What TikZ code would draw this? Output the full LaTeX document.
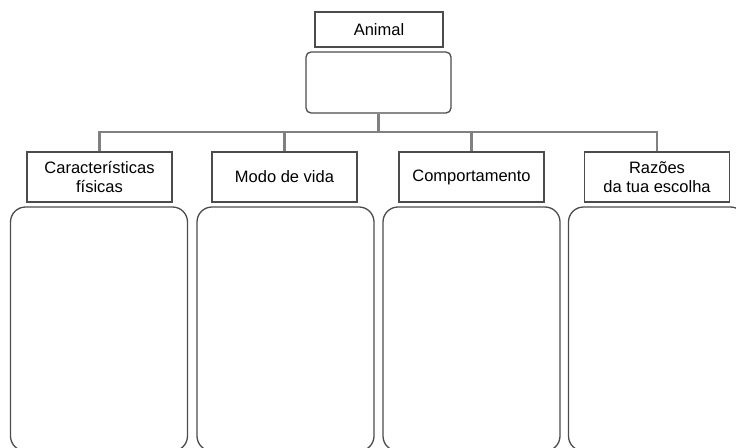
\documentclass[tikz,border=0pt]{standalone}
\usepackage{fontspec}
\setmainfont{Liberation Sans}
\tikzset{
  label box/.style={draw=black!70,line width=1.3pt,minimum width=145pt,minimum height=50pt,
    align=center,inner sep=2pt,font=\fontsize{16.5}{19.5}\selectfont},
  answer box/.style={draw=black!70,line width=1.3pt,rounded corners=15pt,minimum width=177pt,minimum height=244pt},
  link/.style={draw=black!50,line width=2.8pt}
}
\begin{document}
\begin{tikzpicture}[x=1pt,y=-1pt]
        \useasboundingbox (0,0) rectangle (736,447);
        \clip (0,0) rectangle (736,447);
        %% top of the tree
        \node[label box,minimum width=128pt,minimum height=35pt] (animal) at (379,29.5) {Animal};
        \node[answer box,rounded corners=5pt,minimum width=145pt,minimum height=61pt] (name) at (378.5,82.5) {};
        %% headings
        \node[label box] (fisicas) at (99.5,177) {Características\\físicas};
        \node[label box] (modo) at (284.5,177) {Modo de vida};
        \node[label box] (comport) at (471.5,177) {Comportamento};
        \node[label box] (razoes) at (657,177) {Razões\\da tua escolha};
        %% answer boxes
        \node[answer box] (fisicasbox) at (99,329) {};
        \node[answer box] (modobox) at (285.5,329) {};
        \node[answer box] (comportbox) at (471.5,329) {};
        \node[answer box] (razoesbox) at (657,329) {};
        %% connectors
        \coordinate (bus) at (378.5,132);
        \draw[link] (name.south) -- (bus);
        \draw[link] (fisicas.north) |- (bus -| razoes.north) -- (razoes.north);
        \foreach \n in {modo,comport} \draw[link] (\n.north) -- (\n.north |- bus);
    \end{tikzpicture}
\end{document}
